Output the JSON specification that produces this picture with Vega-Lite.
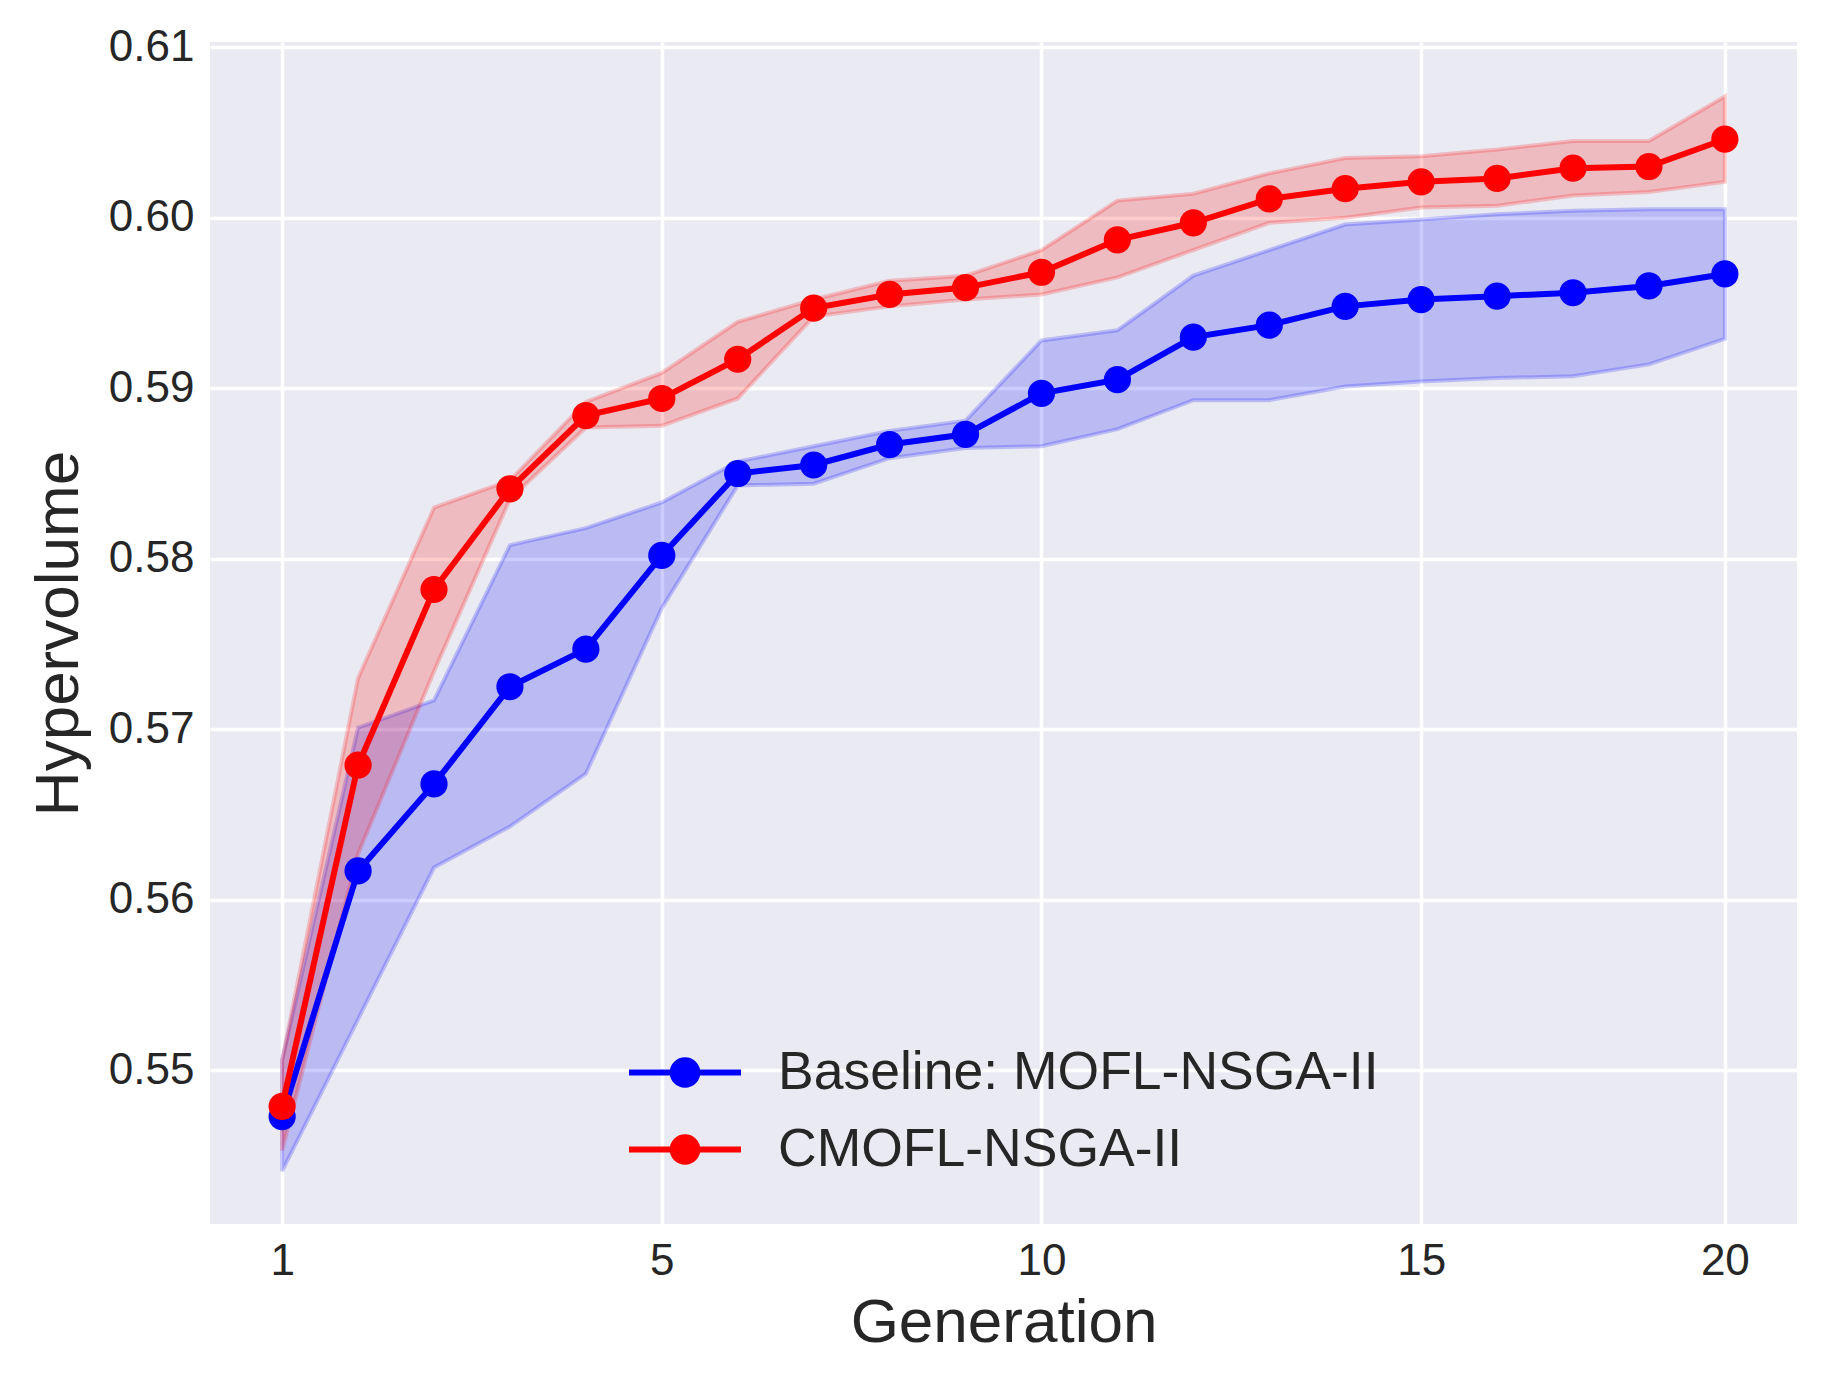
{
  "$schema": "https://vega.github.io/schema/vega-lite/v6.json",
  "width": 1587,
  "height": 1182,
  "autosize": {"type": "none"},
  "padding": {"left": 210, "top": 42, "right": 31, "bottom": 163},
  "background": "#ffffff",
  "config": {
    "font": "Liberation Sans",
    "view": {"fill": "#EAEAF2", "stroke": null},
    "axis": {
      "domain": false,
      "ticks": false,
      "grid": true,
      "gridColor": "#ffffff",
      "gridWidth": 3.5,
      "gridOpacity": 1,
      "labelFont": "Liberation Sans",
      "labelFontSize": 44,
      "labelColor": "#262626",
      "titleFont": "Liberation Sans",
      "titleFontSize": 62,
      "titleFontWeight": "normal",
      "titleColor": "#262626"
    }
  },
  "data": {
    "values": [
      {"method": "Baseline: MOFL-NSGA-II", "gen": 0, "mean": 0.5473, "lower": 0.5441, "upper": 0.5506},
      {"method": "Baseline: MOFL-NSGA-II", "gen": 1, "mean": 0.5617, "lower": 0.5530, "upper": 0.5701},
      {"method": "Baseline: MOFL-NSGA-II", "gen": 2, "mean": 0.5668, "lower": 0.5619, "upper": 0.5717},
      {"method": "Baseline: MOFL-NSGA-II", "gen": 3, "mean": 0.5725, "lower": 0.5643, "upper": 0.5808},
      {"method": "Baseline: MOFL-NSGA-II", "gen": 4, "mean": 0.5747, "lower": 0.5674, "upper": 0.5818},
      {"method": "Baseline: MOFL-NSGA-II", "gen": 5, "mean": 0.5802, "lower": 0.5771, "upper": 0.5833},
      {"method": "Baseline: MOFL-NSGA-II", "gen": 6, "mean": 0.5850, "lower": 0.5843, "upper": 0.5857},
      {"method": "Baseline: MOFL-NSGA-II", "gen": 7, "mean": 0.5855, "lower": 0.5844, "upper": 0.5866},
      {"method": "Baseline: MOFL-NSGA-II", "gen": 8, "mean": 0.5867, "lower": 0.5859, "upper": 0.5875},
      {"method": "Baseline: MOFL-NSGA-II", "gen": 9, "mean": 0.5873, "lower": 0.5865, "upper": 0.5881},
      {"method": "Baseline: MOFL-NSGA-II", "gen": 10, "mean": 0.5897, "lower": 0.5866, "upper": 0.5928},
      {"method": "Baseline: MOFL-NSGA-II", "gen": 11, "mean": 0.5905, "lower": 0.5876, "upper": 0.5934},
      {"method": "Baseline: MOFL-NSGA-II", "gen": 12, "mean": 0.5930, "lower": 0.5893, "upper": 0.5966},
      {"method": "Baseline: MOFL-NSGA-II", "gen": 13, "mean": 0.5937, "lower": 0.5893, "upper": 0.5981},
      {"method": "Baseline: MOFL-NSGA-II", "gen": 14, "mean": 0.5948, "lower": 0.5901, "upper": 0.5996},
      {"method": "Baseline: MOFL-NSGA-II", "gen": 15, "mean": 0.5952, "lower": 0.5904, "upper": 0.5999},
      {"method": "Baseline: MOFL-NSGA-II", "gen": 16, "mean": 0.5954, "lower": 0.5906, "upper": 0.6002},
      {"method": "Baseline: MOFL-NSGA-II", "gen": 17, "mean": 0.5956, "lower": 0.5907, "upper": 0.6004},
      {"method": "Baseline: MOFL-NSGA-II", "gen": 18, "mean": 0.5960, "lower": 0.5914, "upper": 0.6005},
      {"method": "Baseline: MOFL-NSGA-II", "gen": 19, "mean": 0.5967, "lower": 0.5929, "upper": 0.6005},
      {"method": "CMOFL-NSGA-II", "gen": 0, "mean": 0.5479, "lower": 0.5453, "upper": 0.5506},
      {"method": "CMOFL-NSGA-II", "gen": 1, "mean": 0.5679, "lower": 0.5627, "upper": 0.5730},
      {"method": "CMOFL-NSGA-II", "gen": 2, "mean": 0.5782, "lower": 0.5734, "upper": 0.5830},
      {"method": "CMOFL-NSGA-II", "gen": 3, "mean": 0.5841, "lower": 0.5835, "upper": 0.5846},
      {"method": "CMOFL-NSGA-II", "gen": 4, "mean": 0.5884, "lower": 0.5877, "upper": 0.5892},
      {"method": "CMOFL-NSGA-II", "gen": 5, "mean": 0.5894, "lower": 0.5878, "upper": 0.5909},
      {"method": "CMOFL-NSGA-II", "gen": 6, "mean": 0.5917, "lower": 0.5894, "upper": 0.5939},
      {"method": "CMOFL-NSGA-II", "gen": 7, "mean": 0.5947, "lower": 0.5942, "upper": 0.5952},
      {"method": "CMOFL-NSGA-II", "gen": 8, "mean": 0.5955, "lower": 0.5948, "upper": 0.5963},
      {"method": "CMOFL-NSGA-II", "gen": 9, "mean": 0.5959, "lower": 0.5952, "upper": 0.5966},
      {"method": "CMOFL-NSGA-II", "gen": 10, "mean": 0.5968, "lower": 0.5955, "upper": 0.5981},
      {"method": "CMOFL-NSGA-II", "gen": 11, "mean": 0.5987, "lower": 0.5965, "upper": 0.6010},
      {"method": "CMOFL-NSGA-II", "gen": 12, "mean": 0.5997, "lower": 0.5981, "upper": 0.6014},
      {"method": "CMOFL-NSGA-II", "gen": 13, "mean": 0.6011, "lower": 0.5997, "upper": 0.6026},
      {"method": "CMOFL-NSGA-II", "gen": 14, "mean": 0.6017, "lower": 0.6000, "upper": 0.6035},
      {"method": "CMOFL-NSGA-II", "gen": 15, "mean": 0.6021, "lower": 0.6006, "upper": 0.6036},
      {"method": "CMOFL-NSGA-II", "gen": 16, "mean": 0.6023, "lower": 0.6007, "upper": 0.6040},
      {"method": "CMOFL-NSGA-II", "gen": 17, "mean": 0.6029, "lower": 0.6013, "upper": 0.6045},
      {"method": "CMOFL-NSGA-II", "gen": 18, "mean": 0.6030, "lower": 0.6015, "upper": 0.6045},
      {"method": "CMOFL-NSGA-II", "gen": 19, "mean": 0.6046, "lower": 0.6021, "upper": 0.6071}
    ]
  },
  "encoding": {
    "x": {
      "field": "gen",
      "type": "quantitative",
      "scale": {"domain": [-0.95, 19.95], "nice": false, "zero": false},
      "axis": {
        "title": "Generation",
        "values": [0, 5, 10, 15, 19],
        "labelExpr": "datum.value == 0 ? '1' : datum.value == 19 ? '20' : datum.label",
        "labelPadding": 15,
        "titlePadding": 9
      }
    }
  },
  "layer": [
    {
      "mark": {"type": "area", "fillOpacity": 0.2, "strokeOpacity": 0.2, "strokeWidth": 4},
      "encoding": {
        "y": {
          "field": "lower",
          "type": "quantitative",
          "scale": {"domain": [0.541, 0.6103], "nice": false, "zero": false},
          "axis": {
            "title": "Hypervolume",
            "values": [0.55, 0.56, 0.57, 0.58, 0.59, 0.6, 0.61],
            "format": ".2f",
            "labelPadding": 16,
            "titlePadding": 18
          }
        },
        "y2": {"field": "upper"},
        "color": {
          "field": "method",
          "type": "nominal",
          "scale": {"domain": ["Baseline: MOFL-NSGA-II", "CMOFL-NSGA-II"], "range": ["#0000FF", "#FF0000"]},
          "legend": {
            "title": null,
            "orient": "none",
            "legendX": 416,
            "legendY": 992,
            "padding": 0,
            "symbolType": "M-1,0H1M-0.22,0A0.22,0.22,0,1,0,0.22,0A0.22,0.22,0,1,0,-0.22,0Z",
            "symbolSize": 12544,
            "symbolStrokeWidth": 6,
            "clipHeight": 77,
            "rowPadding": 0,
            "labelFont": "Liberation Sans",
            "labelFontSize": 53.5,
            "labelColor": "#262626",
            "labelOffset": 34,
            "labelLimit": 1000,
            "encode": {
              "symbols": {
                "update": {
                  "fill": {"scale": "color", "field": "value"},
                  "stroke": {"scale": "color", "field": "value"},
                  "fillOpacity": {"value": 1},
                  "strokeOpacity": {"value": 1},
                  "opacity": {"value": 1}
                }
              }
            }
          }
        },
        "stroke": {
          "field": "method",
          "type": "nominal",
          "scale": {"domain": ["Baseline: MOFL-NSGA-II", "CMOFL-NSGA-II"], "range": ["#0000FF", "#FF0000"]},
          "legend": null
        }
      }
    },
    {
      "mark": {"type": "line", "strokeWidth": 6},
      "encoding": {
        "y": {"field": "mean", "type": "quantitative"},
        "color": {"field": "method", "type": "nominal"}
      }
    },
    {
      "mark": {"type": "point", "shape": "circle", "filled": true, "size": 740, "opacity": 1, "strokeWidth": 0},
      "encoding": {
        "y": {"field": "mean", "type": "quantitative"},
        "color": {"field": "method", "type": "nominal"}
      }
    }
  ]
}
